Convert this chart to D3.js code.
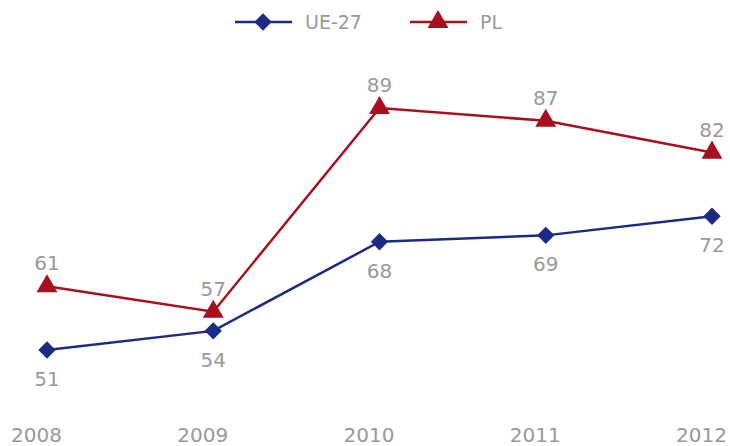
<!DOCTYPE html>
<html>
<head>
<meta charset="utf-8">
<script src="https://cdn.jsdelivr.net/npm/d3@7"></script>
<style>
  body { margin: 0; background: #fff; }
  text { font-family: "DejaVu Sans", sans-serif; fill: #999; }
</style>
</head>
<body>
<svg id="chart" width="730" height="446"></svg>
<script>
// data
var years = ["2008", "2009", "2010", "2011", "2012"];
var ue27 = [51, 54, 68, 69, 72];
var pl = [61, 57, 89, 87, 82];

var blue = "#1b2a82", red = "#a8101f";

var svg = d3.select("#chart");

var x = d3.scalePoint()
    .domain(years)
    .range([47, 712]);

var y = d3.scaleLinear()
    .domain([40, 100])
    .range([420, 38]);

// x labels (no axis line), sit a bit left of the points like the original
var xAxis = d3.axisBottom(x).tickSize(0).tickPadding(0);
var gx = svg.append("g")
    .attr("transform", "translate(-11,428)")
    .call(xAxis);
gx.select(".domain").remove();
gx.selectAll("text")
    .attr("dy", "0.71em")
    .style("font-size", "20px")
    .style("fill", "#999")
    .style("font-family", "DejaVu Sans, sans-serif");

var line = d3.line()
    .x(function(d, i) { return x(years[i]); })
    .y(function(d) { return y(d); });

var diamond = d3.symbol().type(d3.symbolSquare).size(150);
var triangle = d3.symbol().type(d3.symbolTriangle).size(190);

function drawSeries(vals, color, sym, rotate, labelDy) {
    svg.append("path")
        .datum(vals)
        .attr("fill", "none")
        .attr("stroke", color)
        .attr("stroke-width", 2.5)
        .attr("d", line);

    svg.selectAll(null)
        .data(vals)
        .enter().append("path")
        .attr("d", sym)
        .attr("fill", color)
        .attr("transform", function(d, i) {
            return "translate(" + x(years[i]) + "," + y(d) + ")" + (rotate ? " rotate(45)" : "");
        });

    svg.selectAll(null)
        .data(vals)
        .enter().append("text")
        .attr("x", function(d, i) { return x(years[i]); })
        .attr("y", function(d) { return y(d) + labelDy; })
        .attr("text-anchor", "middle")
        .attr("dy", "0.35em")
        .style("font-size", "20px")
        .text(function(d) { return d; });
}

drawSeries(ue27, blue, diamond, true, 29);
drawSeries(pl, red, triangle, false, -23);

// legend
var legend = [
    {name: "UE-27", color: blue, sym: diamond, rotate: true, x: 235},
    {name: "PL", color: red, sym: triangle, rotate: false, x: 410}
];
var lg = svg.append("g").selectAll("g")
    .data(legend)
    .enter().append("g")
    .attr("transform", function(d) { return "translate(" + d.x + ",22)"; });
lg.append("line")
    .attr("x1", 0).attr("x2", 57)
    .attr("stroke", function(d) { return d.color; })
    .attr("stroke-width", 2.5);
lg.append("path")
    .attr("d", function(d) { return d.sym(); })
    .attr("fill", function(d) { return d.color; })
    .attr("transform", function(d) { return "translate(28,0)" + (d.rotate ? " rotate(45)" : ""); });
lg.append("text")
    .attr("x", 70)
    .attr("dy", "0.35em")
    .style("font-size", "19px")
    .text(function(d) { return d.name; });
</script>
</body>
</html>
